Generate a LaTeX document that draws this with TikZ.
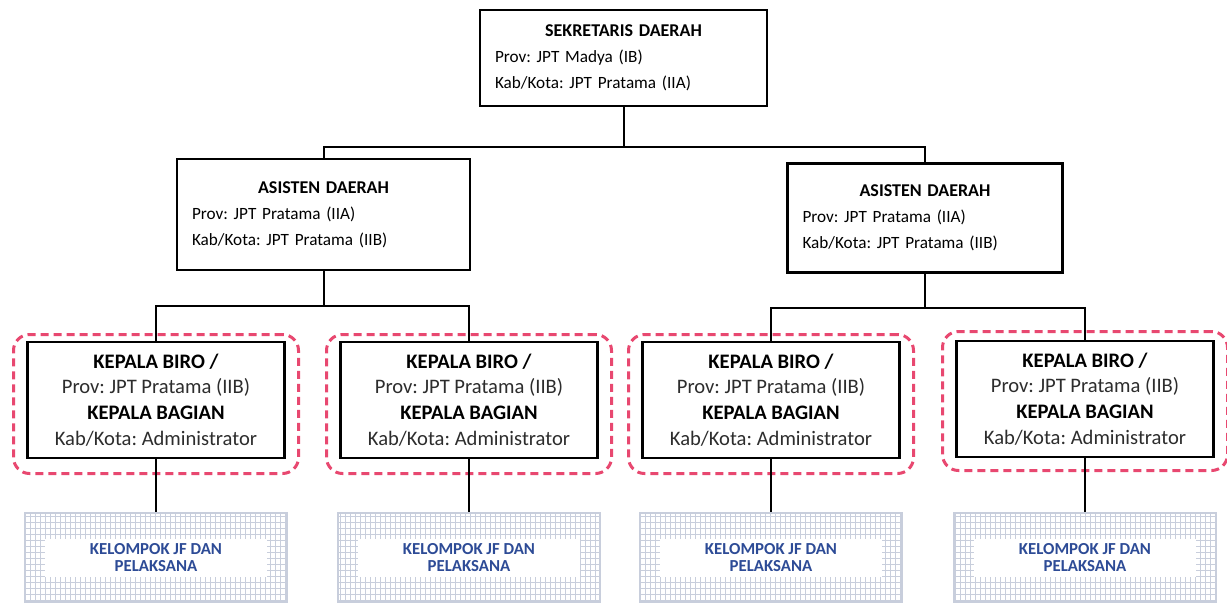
\documentclass[tikz,border=0pt]{standalone}
\usepackage{fontspec}
\setmainfont{Carlito}
\usetikzlibrary{calc}
\definecolor{framered}{RGB}{232,72,112}
\definecolor{jfblue}{RGB}{45,75,150}
\definecolor{gridgray}{RGB}{200,206,220}
\definecolor{textgray}{RGB}{45,45,45}
\def\headline#1{\makebox[\linewidth]{\fontsize{9}{13}\selectfont\bfseries #1}}
\frenchspacing

\begin{document}
\begin{tikzpicture}[x=0.5pt,y=-0.5pt,
	topbox/.style={draw=black, line width=1.3pt, fill=white, inner xsep=7.5pt, align=left,
		font=\fontsize{8.6}{13}\selectfont},
	birobox/.style={draw=black, line width=1.4pt, fill=white, align=center, text=textgray,
		minimum width=128.5pt, minimum height=58pt, font=\fontsize{10.3}{12.85}\selectfont},
	redframe/.style={draw=framered, line width=1.5pt, dash pattern=on 4pt off 2.5pt,
		rounded corners=8pt, minimum width=142.5pt, minimum height=69.5pt},
	jfbox/.style={draw=gridgray, line width=0.6pt, minimum width=131pt, minimum height=44.5pt},
	jfgrid/.style={draw=gridgray, line width=0.25pt, xstep=2.5pt, ystep=3pt},
	jftext/.style={fill=white, text=jfblue, align=center, minimum width=111pt, minimum height=19pt,
		inner sep=0pt, font=\fontsize{8.4}{8.7}\selectfont\bfseries},
	link/.style={draw=black, line width=1pt}]
	%%%%% START %%%%%
	\useasboundingbox (0,0) rectangle (1227,606);
	
	\node[topbox, text width=128.5pt, minimum height=48pt] (sekda) at (623.5,58)
		{\headline{SEKRETARIS DAERAH}\\Prov: JPT Madya (IB)\\Kab/Kota: JPT Pratama (IIA)};
	
	\node[topbox, text width=131.5pt, minimum height=55.5pt] (ast1) at (323.5,214.5)
		{\headline{ASISTEN DAERAH}\\Prov: JPT Pratama (IIA)\\Kab/Kota: JPT Pratama (IIB)};
	\node[topbox, text width=122.5pt, minimum height=54.5pt] (ast2) at (925,218)
		{\headline{ASISTEN DAERAH}\\Prov: JPT Pratama (IIA)\\Kab/Kota: JPT Pratama (IIB)};
	
	\coordinate (bus0) at (623.5,147);
	\draw[link] (sekda.south) -- (bus0);
	\draw[link] (ast1.north) |- (bus0) -| (ast2.north);
	
	% red dashed frames
	\node[redframe] (frame1) at (156,404) {};
	\node[redframe] (frame2) at (469,404) {};
	\node[redframe] (frame3) at (771,404) {};
	\node[redframe] (frame4) at (1085,401) {};
	
	\node[birobox] (biro1) at (156,400)
		{\textcolor{black}{\bfseries KEPALA BIRO /}\\Prov: JPT Pratama (IIB)\\\textcolor{black}{\bfseries KEPALA BAGIAN}\\Kab/Kota: Administrator};
	\node[birobox] (biro2) at (469,400)
		{\textcolor{black}{\bfseries KEPALA BIRO /}\\Prov: JPT Pratama (IIB)\\\textcolor{black}{\bfseries KEPALA BAGIAN}\\Kab/Kota: Administrator};
	\node[birobox] (biro3) at (771,400)
		{\textcolor{black}{\bfseries KEPALA BIRO /}\\Prov: JPT Pratama (IIB)\\\textcolor{black}{\bfseries KEPALA BAGIAN}\\Kab/Kota: Administrator};
	\node[birobox] (biro4) at (1085,399)
		{\textcolor{black}{\bfseries KEPALA BIRO /}\\Prov: JPT Pratama (IIB)\\\textcolor{black}{\bfseries KEPALA BAGIAN}\\Kab/Kota: Administrator};
	
	\coordinate (bus1) at (323.5,306);
	\coordinate (bus2) at (925,308);
	\draw[link] (ast1.south) -- (bus1);
	\draw[link] (biro1.north) |- (bus1) -| (biro2.north);
	\draw[link] (ast2.south) -- (bus2);
	\draw[link] (biro3.north) |- (bus2) -| (biro4.north);
	
	% kelompok jf
	\node[jfbox] (jf1) at (156,557.5) {};
	\node[jfbox] (jf2) at (469,557.5) {};
	\node[jfbox] (jf3) at (771,557.5) {};
	\node[jfbox] (jf4) at (1085,557.5) {};
	\draw[jfgrid] (jf1.south west) grid (jf1.north east);
	\draw[jfgrid] (jf2.south west) grid (jf2.north east);
	\draw[jfgrid] (jf3.south west) grid (jf3.north east);
	\draw[jfgrid] (jf4.south west) grid (jf4.north east);
	\node[jftext] (jt1) at (jf1) {KELOMPOK JF DAN\\PELAKSANA};
	\node[jftext] (jt2) at (jf2) {KELOMPOK JF DAN\\PELAKSANA};
	\node[jftext] (jt3) at (jf3) {KELOMPOK JF DAN\\PELAKSANA};
	\node[jftext] (jt4) at (jf4) {KELOMPOK JF DAN\\PELAKSANA};
	
	\draw[link] (biro1.south) -- (jf1.north);
	\draw[link] (biro2.south) -- (jf2.north);
	\draw[link] (biro3.south) -- (jf3.north);
	\draw[link] (biro4.south) -- (jf4.north);
	%%%%% END %%%%%
\end{tikzpicture}
\end{document}
